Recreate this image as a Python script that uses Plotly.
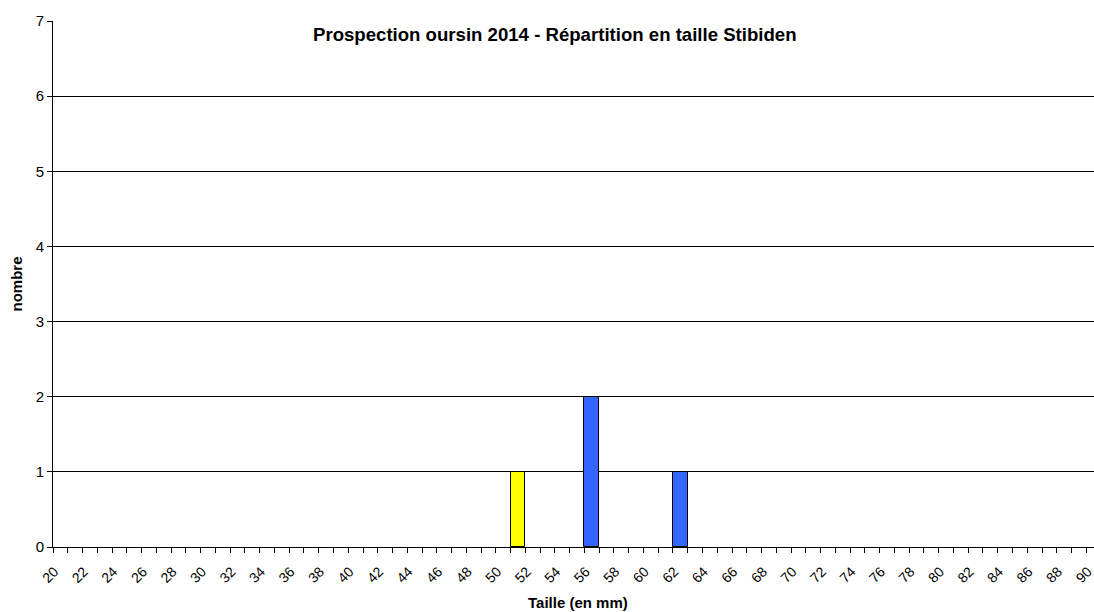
import plotly.graph_objects as go

# Size classes (mm) shown on the axis and the counts observed
tick_sizes = [20, 22, 24, 26, 28, 30, 32, 34, 36, 38, 40, 42, 44, 46, 48, 50, 52, 54,
              56, 58, 60, 62, 64, 66, 68, 70, 72, 74, 76, 78, 80, 82, 84, 86, 88, 90]
tick_labels = [str(v) for v in tick_sizes]

taille = [51, 56, 62]
nombre = [1, 2, 1]
bar_colors = ["#FFFF00", "#3366FF", "#3366FF"]

y_ticks = [0, 1, 2, 3, 4, 5, 6, 7]

FONT = "Liberation Sans, Arial, sans-serif"

fig = go.Figure()
fig.add_trace(go.Bar(
    x=taille, y=nombre, width=1,
    marker=dict(color=bar_colors, line=dict(color="black", width=1)),
    hoverinfo="x+y",
))

fig.update_layout(
    width=1094, height=612,
    margin=dict(l=53, r=0, t=21, b=65),
    paper_bgcolor="white", plot_bgcolor="white",
    showlegend=False,
    font=dict(family=FONT, color="black", size=14),
    bargap=0,
)

fig.update_xaxes(
    range=[19.5, 90.02], automargin=False,
    tickmode="array", tickvals=tick_sizes, ticktext=tick_labels,
    tickangle=-45, tickfont=dict(size=14), ticklabeloverflow="allow",
    ticklabelstandoff=10, ticklabelshift=-6,
    ticks="", showgrid=False, zeroline=False,
    showline=True, linecolor="black", linewidth=1,
    minor=dict(ticks="outside", tick0=19.5, dtick=1, ticklen=5,
               tickcolor="black", tickwidth=1, showgrid=False),
)

fig.update_yaxes(
    range=[0, 7], automargin=False,
    tickmode="array", tickvals=y_ticks,
    ticks="outside", ticklen=5, tickcolor="black",
    tickfont=dict(size=15),
    showgrid=True, gridcolor="black", gridwidth=1,
    zeroline=False,
    showline=True, linecolor="black", linewidth=1,
)

# Titles placed as paper annotations
fig.add_annotation(
    text="<b>Prospection oursin 2014 - Répartition en taille Stibiden</b>",
    xref="paper", yref="paper", x=0.482, y=0.975,
    xanchor="center", yanchor="middle", showarrow=False,
    font=dict(size=18.6, family=FONT, color="black"),
)
fig.add_annotation(
    text="<b>Taille (en mm)</b>",
    xref="paper", yref="paper", x=0.504, y=-0.105,
    xanchor="center", yanchor="middle", showarrow=False,
    font=dict(size=15, family=FONT, color="black"),
)
fig.add_annotation(
    text="<b>nombre</b>", textangle=-90,
    xref="paper", yref="paper", x=-0.036, y=0.5,
    xanchor="center", yanchor="middle", showarrow=False,
    font=dict(size=15, family=FONT, color="black"),
)

fig.write_html("out.html")
